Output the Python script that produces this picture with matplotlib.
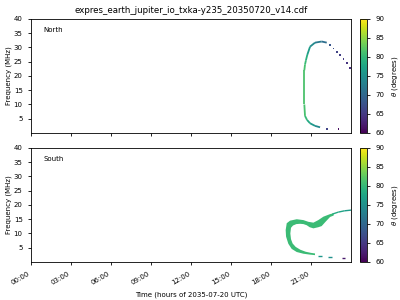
import numpy as np
import matplotlib
matplotlib.use('Agg')
import matplotlib.pyplot as plt
from matplotlib.collections import LineCollection
from matplotlib.colors import Normalize

title = 'expres_earth_jupiter_io_txka-y235_20350720_v14.cdf'
hour_ticks = [0, 3, 6, 9, 12, 15, 18, 21]
hour_labels = ['00:00', '03:00', '06:00', '09:00', '12:00', '15:00', '18:00', '21:00']
freq_ticks = [5, 10, 15, 20, 25, 30, 35, 40]
theta_ticks = [60, 65, 70, 75, 80, 85, 90]

# North: continuous arc (time in hours, freq in MHz, theta in degrees)
north_t = [21.68, 21.3, 20.93, 20.7, 20.55, 20.5, 20.5, 20.5, 20.55, 20.62, 20.72, 20.93, 21.3, 21.8, 22.18]
north_f = [2.0, 2.5, 3.4, 4.6, 6.0, 10.0, 16.0, 22.0, 24.0, 25.5, 27.4, 30.3, 31.7, 32.1, 31.7]
north_theta = [73, 75, 77, 79.5, 81, 81.5, 81.5, 81.5, 81, 80, 78, 75.5, 73, 71.5, 70]
# North: sparse dots
north_dot_t = [22.43, 22.68, 22.93, 23.18, 23.43, 23.68, 23.93, 22.18, 23.05]
north_dot_f = [30.9, 29.7, 28.5, 27.4, 25.9, 24.5, 22.7, 1.5, 1.3]
north_dot_theta = [68, 67, 66, 65.5, 65, 64.5, 64, 66, 61]

# South: main emission body outline
south_body_t = [19.18, 19.43, 19.93, 20.43, 20.8, 21.18, 21.55, 21.93, 22.43, 22.7,
                22.7, 22.43, 22.05, 21.8, 21.55, 21.18, 20.9, 20.68, 20.43, 20.18, 19.9, 19.65,
                19.5, 19.45, 19.5, 19.62, 19.85, 20.2, 20.6, 21.0, 21.3,
                21.3, 20.9, 20.43, 19.93, 19.55, 19.3, 19.13, 19.1]
south_body_f = [13.6, 14.5, 15.0, 14.7, 14.1, 13.8, 14.7, 15.9, 16.8, 17.1,
                16.3, 15.8, 13.9, 12.6, 12.2, 11.8, 12.2, 12.9, 13.3, 13.4, 13.3, 12.8,
                12.0, 10.0, 8.0, 6.5, 5.3, 4.3, 3.6, 3.2, 3.0,
                2.4, 2.6, 2.9, 3.5, 4.6, 6.4, 8.9, 11.2]
south_body_theta = 80.5
# South: thin tail towards high frequency
south_tail_t = [22.6, 23.05, 23.5, 24.0]
south_tail_f = [16.8, 17.5, 17.95, 18.2]
south_tail_theta = [79, 78, 77, 76]
# South: low-frequency dashes (start, end, freq, theta)
south_dash_t0 = [21.55, 22.3, 23.3]
south_dash_t1 = [21.8, 22.55, 23.55]
south_dash_f = [2.1, 1.9, 1.5]
south_dash_theta = [76, 75, 62]

cmap = plt.get_cmap('viridis')
norm = Normalize(vmin=60, vmax=90)


def colored_line(ax, t, f, theta, lw):
    pts = np.column_stack([t, f]).reshape(-1, 1, 2)
    segs = np.concatenate([pts[:-1], pts[1:]], axis=1)
    th = np.asarray(theta, dtype=float)
    lc = LineCollection(segs, cmap=cmap, norm=norm, linewidths=lw, capstyle='butt')
    lc.set_array((th[:-1] + th[1:]) / 2)
    ax.add_collection(lc)
    return lc


fig = plt.figure(figsize=(4, 3), dpi=100)
ax1 = fig.add_axes([0.0775, 0.5567, 0.8, 0.38])
ax2 = fig.add_axes([0.0775, 0.1267, 0.8, 0.38])
cax1 = fig.add_axes([0.9, 0.5567, 0.0175, 0.38])
cax2 = fig.add_axes([0.9, 0.1267, 0.0175, 0.38])

# North panel
lc = colored_line(ax1, north_t, north_f, north_theta, 1.3)
ax1.scatter(north_dot_t, north_dot_f, c=north_dot_theta, cmap=cmap, norm=norm,
            marker='s', s=1.4, linewidths=0)
ax1.text(0.04, 0.9, 'North', transform=ax1.transAxes, fontsize=5, va='center')

# South panel
ax2.fill(south_body_t, south_body_f, color=cmap(norm(south_body_theta)), lw=0)
colored_line(ax2, south_tail_t, south_tail_f, south_tail_theta, 1.0)
dash_segs = [[(a, f), (b, f)] for a, b, f in zip(south_dash_t0, south_dash_t1, south_dash_f)]
dc = LineCollection(dash_segs, cmap=cmap, norm=norm, linewidths=1.0)
dc.set_array(np.asarray(south_dash_theta, dtype=float))
ax2.add_collection(dc)
ax2.text(0.04, 0.9, 'South', transform=ax2.transAxes, fontsize=5, va='center')

for ax in (ax1, ax2):
    ax.set_xlim(0, 24)
    ax.set_ylim(0, 40)
    ax.set_yticks(freq_ticks)
    ax.set_xticks(hour_ticks)
    ax.set_ylabel('Frequency (MHz)', fontsize=5, labelpad=1)
    ax.tick_params(labelsize=5, length=2.5, width=0.6)
    for s in ax.spines.values():
        s.set_linewidth(0.6)

ax1.set_xticklabels([])
ax2.set_xticklabels(hour_labels, rotation=30, ha='right')
ax2.set_xlabel('Time (hours of 2035-07-20 UTC)', fontsize=5)
ax1.set_title(title, fontsize=6.2, pad=4)

for cax in (cax1, cax2):
    cb = fig.colorbar(lc, cax=cax, ticks=theta_ticks)
    cb.set_label(r'$\theta$ (degrees)', fontsize=5)
    cb.ax.tick_params(labelsize=5, length=2.5, width=0.6)
    cb.outline.set_linewidth(0.6)

fig.savefig('out.png', dpi=100)
